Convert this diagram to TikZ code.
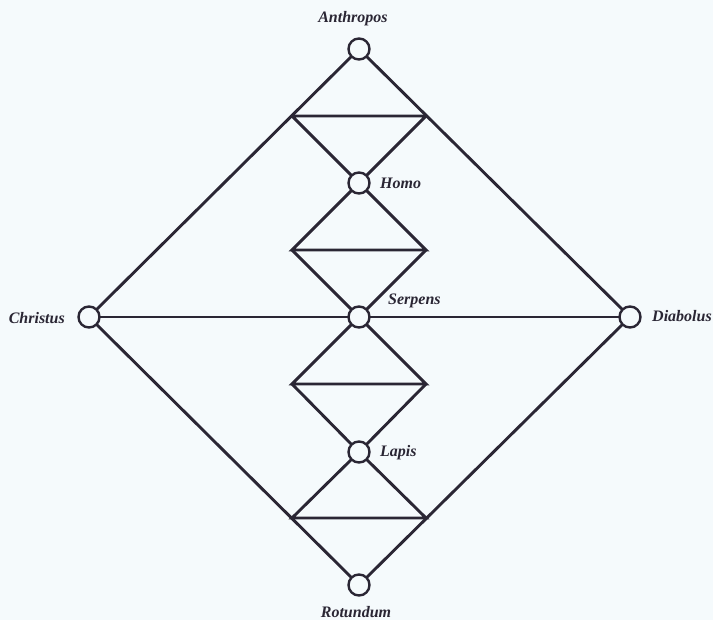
\documentclass[tikz,border=0pt]{standalone}
\usepackage{fontspec}
\setmainfont{Liberation Serif}
\definecolor{ink}{RGB}{42,38,52}
\definecolor{paper}{RGB}{245,250,252}
\begin{document}
\begin{tikzpicture}[x=1pt,y=-1pt,
  dot/.style={circle,draw=ink,fill=paper,line width=2.4pt,minimum size=21pt,inner sep=0pt},
  edge/.style={draw=ink,line width=2.9pt},
  lab/.style={text=ink,font=\fontsize{16}{18}\selectfont\bfseries\itshape,inner sep=0pt}]
\fill[paper] (0,0) rectangle (713,620);
\useasboundingbox (0,0) rectangle (713,620);
% coordinates of hourglass bars
\coordinate (a1) at (292,116); \coordinate (a2) at (426,116);
\coordinate (h1) at (292,250); \coordinate (h2) at (426,250);
\coordinate (s1) at (292,384); \coordinate (s2) at (426,384);
\coordinate (l1) at (292,518); \coordinate (l2) at (426,518);
% node positions
\coordinate (pA) at (359,49);
\coordinate (pH) at (359,183);
\coordinate (pS) at (359,317);
\coordinate (pL) at (359,452);
\coordinate (pR) at (359,585);
\coordinate (pC) at (89,317);
\coordinate (pD) at (630,317);
% lines
\path[edge] (pA) -- (pC) -- (pR) -- (pD) -- (pA);
\path[edge] (pC) -- (pD);
\path[edge] (a1) -- (a2) (a1) -- (pH) (a2) -- (pH);
\path[edge] (pH) -- (h1) -- (h2) -- cycle;
\path[edge] (h1) -- (pS) (h2) -- (pS);
\path[edge] (pS) -- (s1) -- (s2) -- cycle;
\path[edge] (s1) -- (pL) (s2) -- (pL);
\path[edge] (pL) -- (l1) -- (l2) -- cycle;
% circles
\node[dot] (A) at (pA) {};
\node[dot] (H) at (pH) {};
\node[dot] (S) at (pS) {};
\node[dot] (L) at (pL) {};
\node[dot] (R) at (pR) {};
\node[dot] (C) at (pC) {};
\node[dot] (D) at (pD) {};
% labels
\node[lab] (tA) at (353,19) {Anthropos};
\node[lab,anchor=west] (tH) at (380,183) {Homo};
\node[lab,anchor=west] (tS) at (388,301) {Serpens};
\node[lab,anchor=west] (tL) at (380,453) {Lapis};
\node[lab] (tR) at (356,612) {Rotundum};
\node[lab,anchor=east] (tC) at (65,318) {Christus};
\node[lab,anchor=west] (tD) at (652,316) {Diabolus};
\end{tikzpicture}
\end{document}
